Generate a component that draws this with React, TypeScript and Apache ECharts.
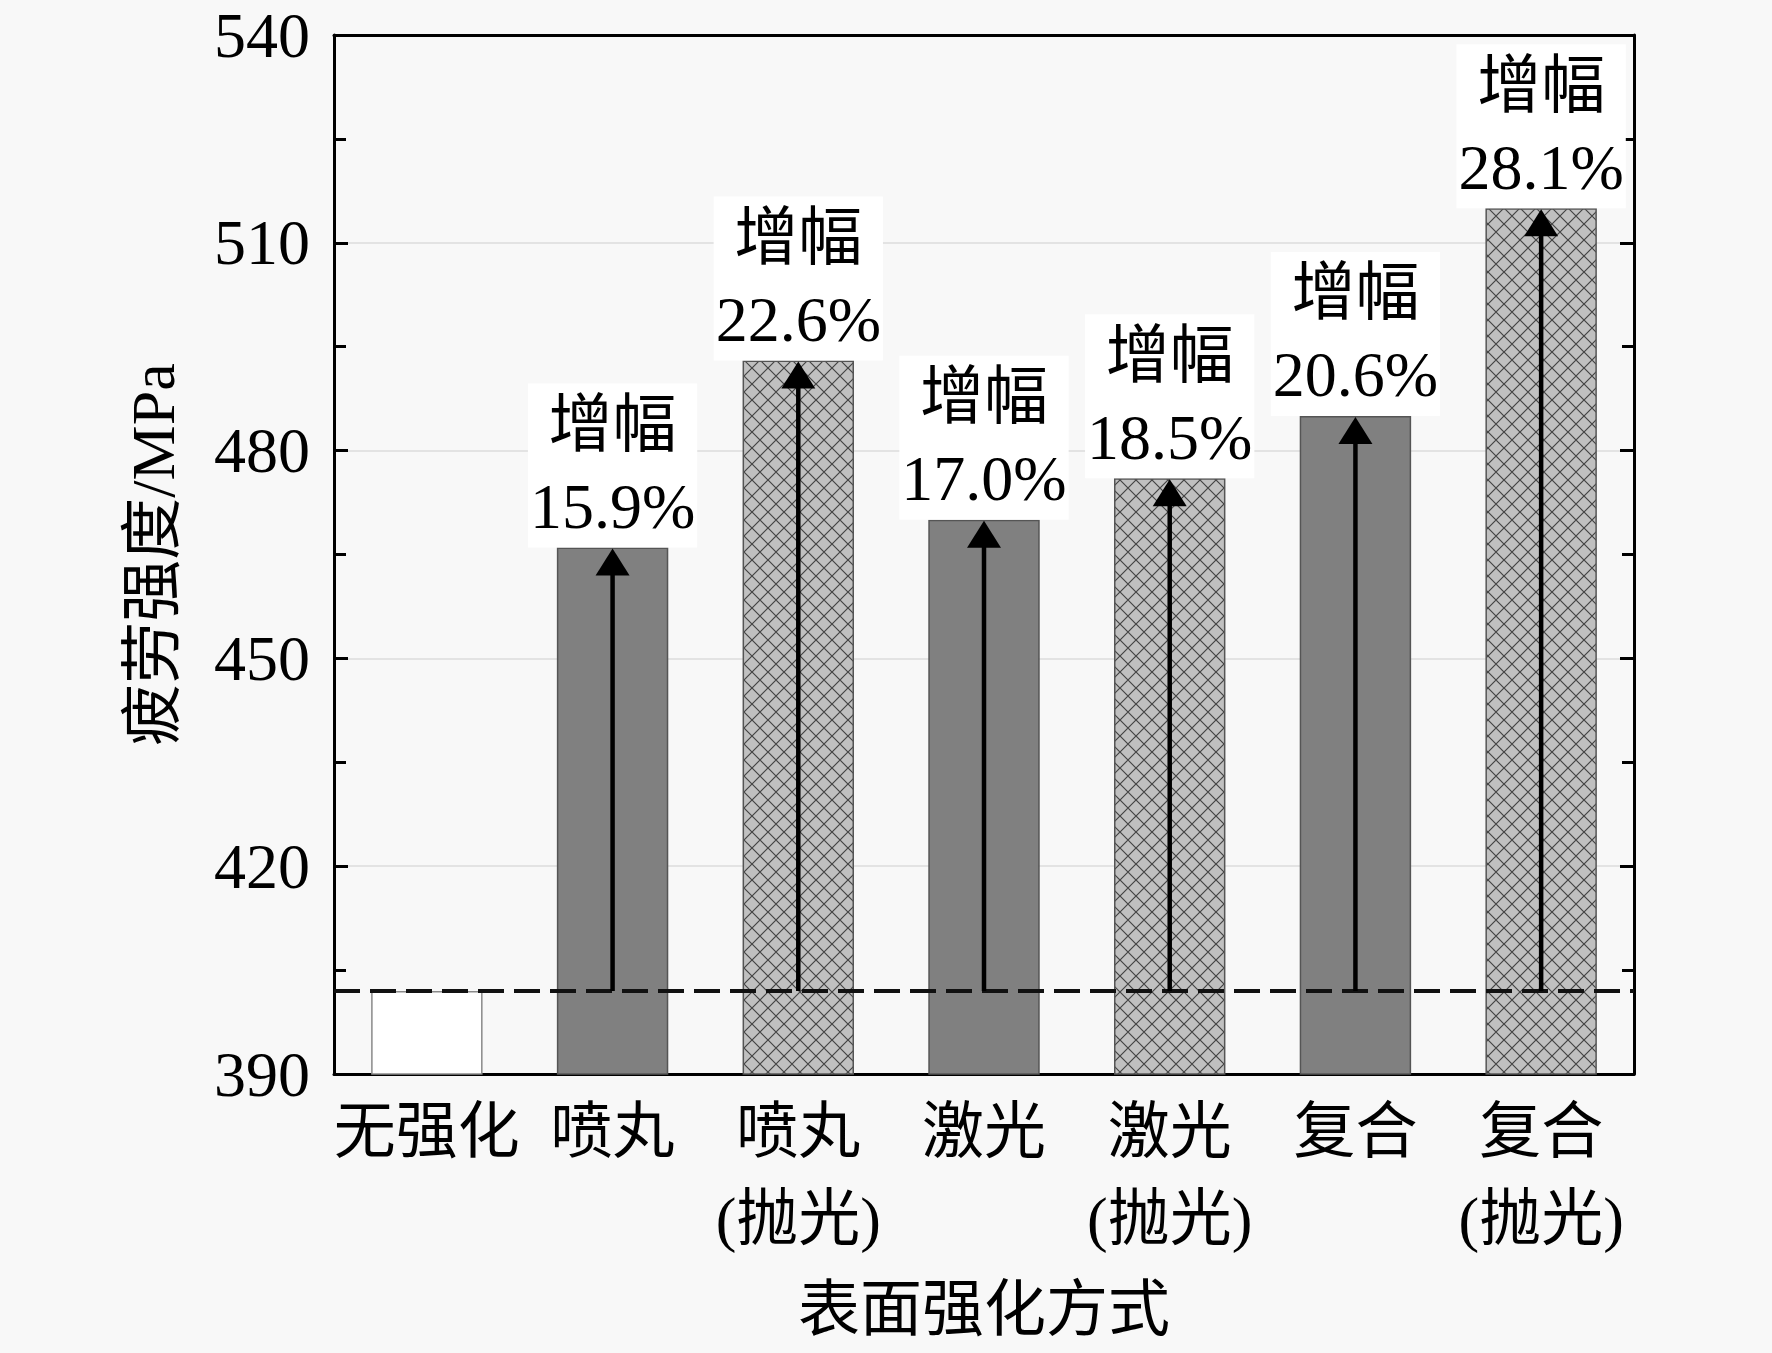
import React, { useEffect, useRef } from "react";
import * as echarts from "echarts";

const categories = ["无强化", "喷丸", "喷丸\n(抛光)", "激光", "激光\n(抛光)", "复合", "复合\n(抛光)"];
const strengths = [402, 466, 493, 470, 476, 485, 515];
const increases = ["", "15.9%", "22.6%", "17.0%", "18.5%", "20.6%", "28.1%"];
const hatched = [false, false, true, false, true, false, true];
const baseline = 402;
const yTicks = { min: 390, max: 540, interval: 30 };

const FONT = "'Liberation Serif', 'Noto Sans CJK SC', serif";

function makeHatch(): HTMLCanvasElement {
  const c = document.createElement("canvas");
  c.width = 16;
  c.height = 16;
  const ctx = c.getContext("2d")!;
  ctx.fillStyle = "#c0c0c0";
  ctx.fillRect(0, 0, 16, 16);
  ctx.strokeStyle = "#444";
  ctx.lineWidth = 1.2;
  ctx.beginPath();
  ctx.moveTo(0, 0);
  ctx.lineTo(16, 16);
  ctx.moveTo(16, 0);
  ctx.lineTo(0, 16);
  ctx.stroke();
  return c;
}

export default function App() {
  const ref = useRef<HTMLDivElement>(null);

  useEffect(() => {
    if (!ref.current) return;
    const chart = echarts.init(ref.current, null, { renderer: "svg" });
    const hatch = makeHatch();

    const barData = strengths.map((v, i) => {
      let itemStyle: any;
      if (i === 0) {
        itemStyle = { color: "#ffffff", borderColor: "#8a8a8a", borderWidth: 1.5 };
      } else if (hatched[i]) {
        itemStyle = { color: { image: hatch, repeat: "repeat" }, borderColor: "#555", borderWidth: 1.5 };
      } else {
        itemStyle = { color: "#808080", borderColor: "#555", borderWidth: 1.5 };
      }
      return { value: v, itemStyle, label: { show: i > 0 } };
    });

    const arrowData = strengths.map((v, i) => [i, v, baseline]).slice(1);

    chart.setOption({
      animation: false,
      backgroundColor: "#f8f8f8",
      grid: { left: 334, right: 138, top: 35, bottom: 279, containLabel: false },
      xAxis: [
        {
          type: "category",
          data: categories,
          position: "bottom",
          axisLine: { lineStyle: { color: "#000", width: 3 } },
          axisTick: { show: true, inside: true, alignWithLabel: true, length: 12, lineStyle: { color: "#000", width: 3 } },
          axisLabel: { interval: 0, color: "#000", fontFamily: FONT, fontSize: 62, lineHeight: 87, margin: 14 },
          name: "表面强化方式",
          nameLocation: "middle",
          nameGap: 205,
          nameTextStyle: { color: "#000", fontFamily: FONT, fontSize: 62 },
        },
        {
          type: "category",
          data: categories,
          position: "top",
          axisLine: { lineStyle: { color: "#000", width: 3 } },
          axisTick: { show: false },
          axisLabel: { show: false },
        },
      ],
      yAxis: [
        {
          type: "value",
          min: yTicks.min,
          max: yTicks.max,
          interval: yTicks.interval,
          position: "left",
          axisLine: { show: true, lineStyle: { color: "#000", width: 3 } },
          axisTick: { show: true, inside: true, length: 14, lineStyle: { color: "#000", width: 3 } },
          minorTick: { show: true, splitNumber: 2, length: 12, lineStyle: { color: "#000", width: 3 } },
          splitLine: { show: true, lineStyle: { color: "#dcdcdc", width: 1.5 } },
          axisLabel: { color: "#000", fontFamily: FONT, fontSize: 64, margin: 24 },
          name: "疲劳强度/MPa",
          nameLocation: "middle",
          nameGap: 150,
          nameTextStyle: { color: "#000", fontFamily: FONT, fontSize: 62 },
        },
        {
          type: "value",
          min: yTicks.min,
          max: yTicks.max,
          interval: yTicks.interval,
          position: "right",
          axisLine: { show: true, lineStyle: { color: "#000", width: 3 } },
          axisTick: { show: true, inside: true, length: 14, lineStyle: { color: "#000", width: 3 } },
          minorTick: { show: true, splitNumber: 2, length: 12, lineStyle: { color: "#000", width: 3 } },
          splitLine: { show: false },
          axisLabel: { show: false },
        },
      ],
      series: [
        {
          type: "bar",
          data: barData,
          barWidth: "60%",
          z: 2,
          label: {
            position: "top",
            distance: 0,
            formatter: (p: any) => `增幅\n${increases[p.dataIndex]}`,
            color: "#000",
            fontFamily: FONT,
            fontSize: 64,
            lineHeight: 82,
            backgroundColor: "#ffffff",
            padding: [0, 2],
          },
        },
        {
          type: "custom",
          data: arrowData,
          z: 5,
          encode: { x: 0, y: 1 },
          renderItem: (params: any, api: any) => {
            const i = api.value(0);
            const top = api.coord([i, api.value(1)]);
            const bot = api.coord([i, api.value(2)]);
            const headH = 28;
            const headW = 34;
            return {
              type: "group",
              children: [
                {
                  type: "line",
                  shape: { x1: bot[0], y1: bot[1], x2: top[0], y2: top[1] + headH - 2 },
                  style: { stroke: "#000", lineWidth: 4.5 },
                },
                {
                  type: "polygon",
                  shape: {
                    points: [
                      [top[0], top[1] + 1],
                      [top[0] - headW / 2, top[1] + headH],
                      [top[0] + headW / 2, top[1] + headH],
                    ],
                  },
                  style: { fill: "#000" },
                },
              ],
            };
          },
          markLine: {
            silent: true,
            symbol: ["none", "none"],
            label: { show: false },
            lineStyle: { color: "#111", width: 4, type: [26, 10] },
            data: [{ yAxis: baseline }],
          },
        },
      ],
    });

    return () => chart.dispose();
  }, []);

  return (
    <div
      ref={ref}
      style={{ position: "fixed", left: 0, top: 0, width: 1772, height: 1353 }}
    />
  );
}
